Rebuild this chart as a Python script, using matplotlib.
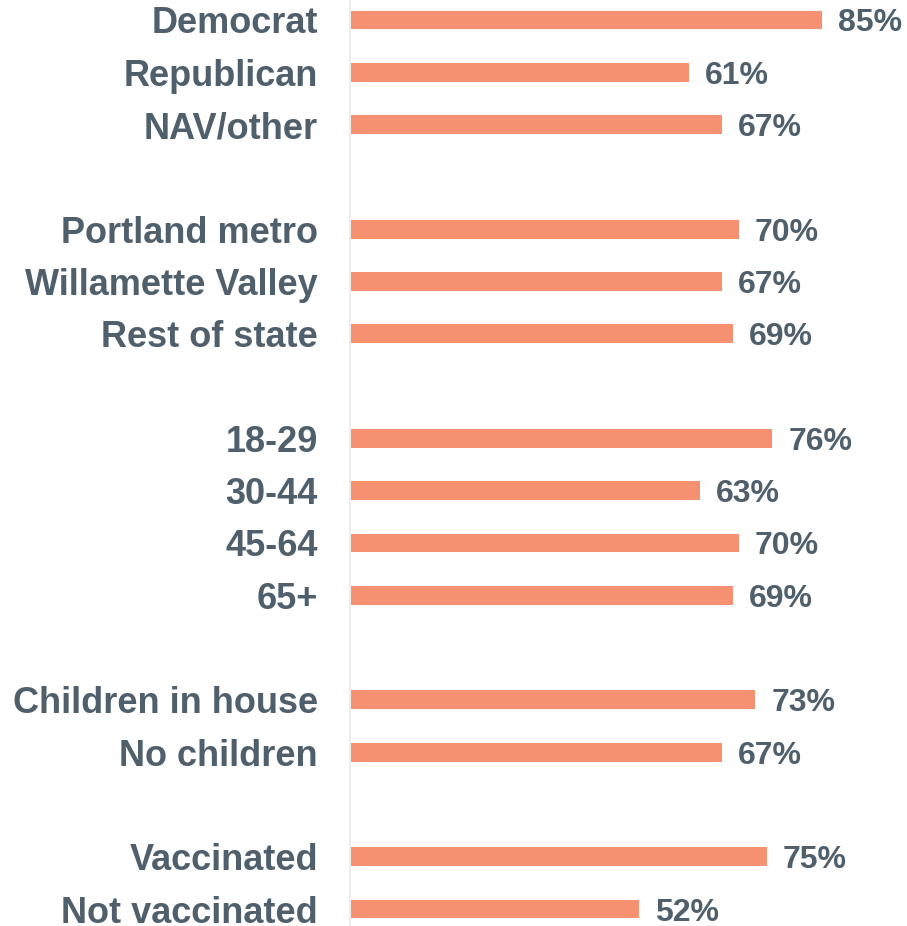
import matplotlib.pyplot as plt

plt.rcParams['font.family'] = ['Liberation Sans', 'DejaVu Sans']

groups = [
    ["Democrat", "Republican", "NAV/other"],
    ["Portland metro", "Willamette Valley", "Rest of state"],
    ["18-29", "30-44", "45-64", "65+"],
    ["Children in house", "No children"],
    ["Vaccinated", "Not vaccinated"],
]
values = [
    [85, 61, 67],
    [70, 67, 69],
    [76, 63, 70, 69],
    [73, 67],
    [75, 52],
]

bar_color = "#F59070"
text_color = "#4F5F6B"

# slot positions, one blank row between groups
labels, vals, pos = [], [], []
slot = 0
for g, v in zip(groups, values):
    for name, val in zip(g, v):
        labels.append(name)
        vals.append(val)
        pos.append(slot)
        slot += 1
    slot += 1

W, H = 907, 926
fig = plt.figure(figsize=(W / 100, H / 100), dpi=100)
ax = fig.add_axes([350 / W, 0, 557 / W, 1])

ax.barh(pos, vals, height=0.36, color=bar_color)

for p, v in zip(pos, vals):
    ax.text(v + 2.9, p, f"{v}%", va="center_baseline", ha="left",
            fontsize=23, fontweight="bold", color=text_color)

ax.set_xlim(0, 100.3)
step = 52.3
ax.set_ylim(pos[-1] + 17 / step, -20 / step)

ax.set_yticks(pos)
ax.set_yticklabels(labels, fontsize=26, fontweight="bold", color=text_color)
ax.tick_params(axis="y", length=0, pad=23)
ax.set_xticks([])

for s in ["top", "right", "bottom"]:
    ax.spines[s].set_visible(False)
ax.spines["left"].set_color("#EDEDED")
ax.spines["left"].set_linewidth(1.5)

fig.savefig("out.png", dpi=100)
